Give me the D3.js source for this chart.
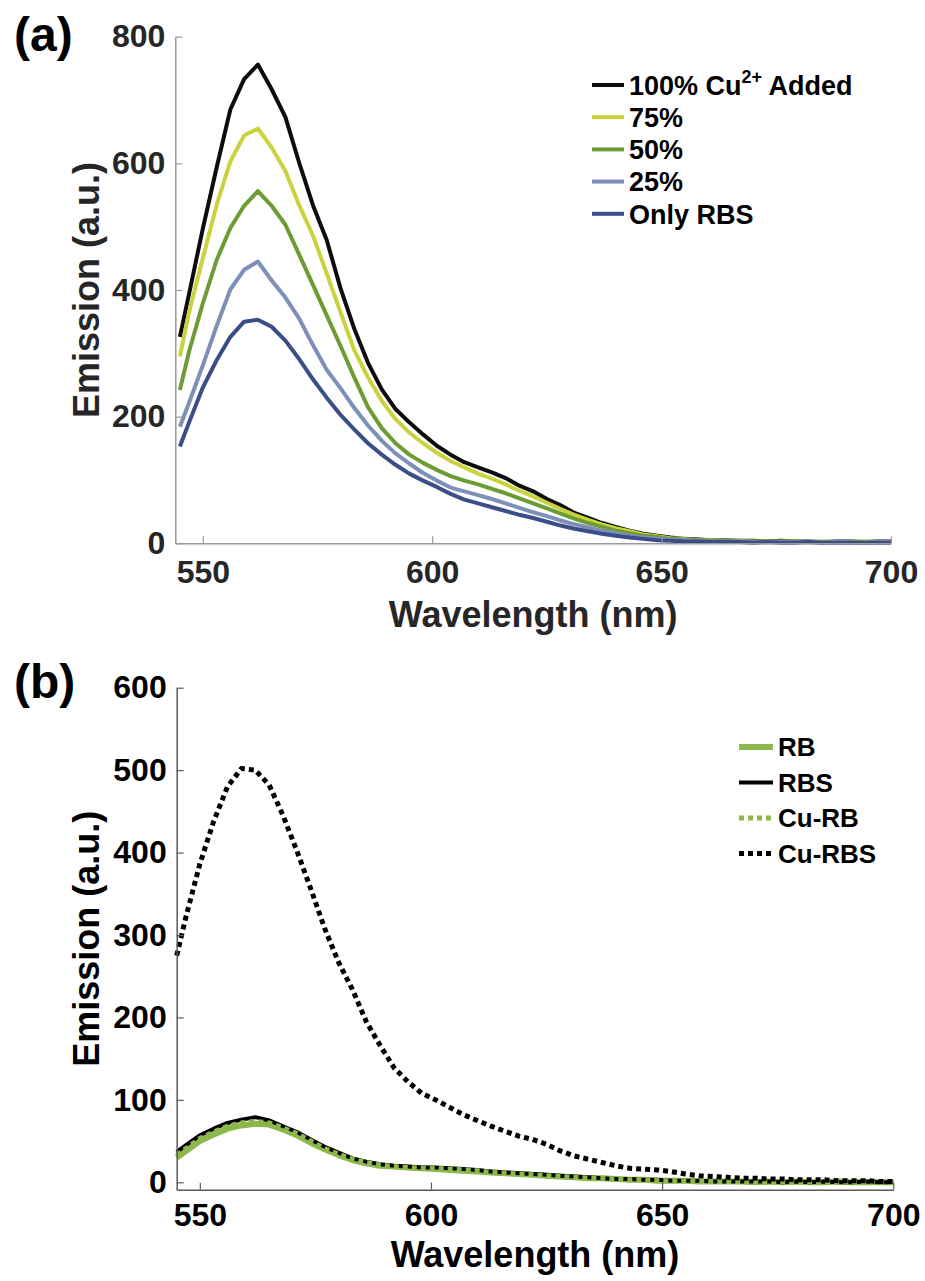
<!DOCTYPE html>
<html>
<head>
<meta charset="utf-8">
<script src="https://cdn.jsdelivr.net/npm/d3@7"></script>
<style>
  body { margin: 0; background: #fff; }
  svg { display: block; }
  text { font-family: "Liberation Sans", Arial, sans-serif; font-weight: bold; }
</style>
</head>
<body>
<svg id="chart" width="925" height="1281"></svg>
<script>
// shared wavelength grid (nm)
const wavelengths = [545, 547, 550, 553, 556, 559, 562, 565, 568, 571, 574, 577, 580, 583, 586, 589, 592, 595, 598, 601,
    604, 607, 610, 613, 616, 619, 622, 625, 628, 631, 634, 637, 640, 643, 646, 649, 652, 655, 658, 661,
    664, 667, 670, 673, 676, 679, 682, 685, 688, 691, 694, 697, 700];

// panel (a): Cu2+ titration
const cu100 = [326, 394, 497, 593, 685, 733, 756, 717, 673, 601, 534, 479, 403, 339, 285, 243, 212, 191, 172, 154,
    140, 128, 120, 112, 103, 91, 82, 70, 60, 48, 40, 32, 26, 20, 15, 12, 9, 7, 6, 5,
    5, 4, 4, 3, 4, 3, 3, 2, 3, 3, 2, 3, 3];
const cu75 = [295, 365, 450, 534, 603, 644, 655, 625, 588, 534, 486, 426, 365, 305, 262, 225, 196, 175, 158, 143,
    130, 120, 110, 102, 93, 83, 74, 64, 54, 45, 37, 30, 24, 19, 14, 11, 8, 7, 5, 5,
    4, 4, 3, 3, 3, 3, 2, 3, 2, 2, 3, 2, 2];
const cu50 = [242, 303, 379, 447, 498, 533, 556, 533, 503, 456, 408, 360, 312, 262, 215, 182, 158, 140, 127, 116,
    106, 99, 93, 86, 79, 71, 63, 55, 47, 39, 32, 26, 20, 16, 12, 10, 7, 6, 5, 4,
    4, 3, 3, 3, 2, 3, 2, 2, 2, 3, 2, 2, 2];
const cu25 = [184, 222, 281, 343, 401, 432, 445, 415, 388, 355, 313, 274, 245, 214, 186, 162, 142, 126, 111, 99,
    88, 82, 76, 70, 63, 56, 49, 43, 36, 30, 25, 20, 16, 12, 9, 7, 6, 5, 4, 3,
    3, 3, 2, 2, 2, 2, 2, 1, 2, 2, 1, 2, 2];
const onlyRBS = [153, 191, 246, 289, 326, 350, 353, 342, 320, 291, 259, 230, 203, 180, 158, 140, 124, 110, 99, 89,
    78, 69, 63, 57, 51, 45, 40, 34, 28, 23, 19, 15, 12, 9, 7, 5, 4, 3, 3, 2,
    2, 2, 1, 2, 1, 1, 2, 1, 1, 1, 1, 1, 1];

// panel (b): controls
const rb = [30, 38, 50, 58, 65, 69, 71, 70, 64, 57, 48, 40, 33, 27, 23, 20, 19, 18, 17, 16,
    15, 14, 13, 12, 11, 10, 9, 8, 7, 6, 5, 5, 4, 3, 3, 2, 2, 2, 1, 1,
    1, 1, 0, 1, 0, 1, 0, 0, 1, 0, 0, 0, 0];
const rbs = [37, 45, 57, 65, 72, 76, 79, 75, 68, 61, 52, 43, 36, 29, 25, 22, 20, 19, 18, 18,
    17, 16, 15, 13, 12, 11, 10, 9, 8, 7, 6, 5, 4, 4, 3, 3, 2, 2, 2, 1,
    1, 1, 1, 1, 0, 1, 0, 1, 0, 0, 1, 0, 0];
const cuRB = [33, 41, 53, 61, 68, 72, 74, 72, 66, 59, 50, 41, 34, 28, 24, 21, 19, 18, 17, 17,
    16, 15, 14, 12, 11, 10, 9, 8, 7, 6, 5, 5, 4, 3, 3, 2, 2, 2, 1, 1,
    1, 1, 1, 0, 1, 0, 1, 0, 0, 1, 0, 0, 0];
const cuRBS = [275, 322, 386, 438, 480, 502, 500, 482, 445, 402, 356, 308, 267, 234, 195, 166, 139, 122, 108, 100,
    91, 82, 75, 68, 62, 56, 52, 46, 38, 32, 28, 24, 20, 17, 16, 15, 13, 10, 8, 7,
    6, 5, 5, 4, 4, 3, 3, 3, 2, 2, 2, 1, 1];

const xTicks = [550, 600, 650, 700];
const yTicksA = [0, 200, 400, 600, 800];
const yTicksB = [0, 100, 200, 300, 400, 500, 600];

const labelsA = [["100% Cu", "2+", " Added"], ["75%"], ["50%"], ["25%"], ["Only RBS"]];
const labelsB = ["RB", "RBS", "Cu-RB", "Cu-RBS"];

const svg = d3.select("#chart");

function drawPanel(cfg) {
    const g = svg.append("g");
    const x = d3.scaleLinear().domain(cfg.xDomain).range([cfg.left, cfg.right]);
    const y = d3.scaleLinear().domain(cfg.yDomain).range([cfg.bottom, cfg.top]);

    const line = d3.line()
        .x((d, i) => x(wavelengths[i]))
        .y(d => y(d));

    cfg.series.forEach(s => {
        g.append("path")
            .datum(s.values)
            .attr("fill", "none")
            .attr("stroke", s.color)
            .attr("stroke-width", s.width)
            .attr("stroke-linejoin", "round")
            .attr("stroke-dasharray", s.dash || null)
            .attr("d", line);
    });

    const xAxis = g.append("g")
        .attr("transform", `translate(0,${ cfg.bottom })`)
        .call(d3.axisBottom(x).tickValues(xTicks).tickSize(-7).tickSizeOuter(0).tickPadding(cfg.xPad));
    const yAxis = g.append("g")
        .attr("transform", `translate(${ cfg.left },0)`)
        .call(d3.axisLeft(y).tickValues(cfg.yTicks).tickSize(-7).tickSizeOuter(0).tickPadding(10));

    [xAxis, yAxis].forEach(a => {
        a.select(".domain").attr("stroke", cfg.axisColor).attr("stroke-width", 1.5);
        a.selectAll(".tick line").attr("stroke", cfg.axisColor).attr("stroke-width", 1.2);
        a.selectAll(".tick text")
            .attr("fill", cfg.textColor)
            .style("font-size", "32px");
    });

    g.append("text")
        .attr("x", (cfg.left + cfg.right) / 2)
        .attr("y", cfg.bottom + cfg.xLabelDy)
        .attr("text-anchor", "middle")
        .attr("fill", cfg.textColor)
        .style("font-size", "36px")
        .text("Wavelength (nm)");

    g.append("text")
        .attr("transform", `translate(99,${ (cfg.top + cfg.bottom) / 2 }) rotate(-90)`)
        .attr("text-anchor", "middle")
        .attr("fill", cfg.textColor)
        .style("font-size", "36px")
        .text("Emission (a.u.)");

    g.append("text")
        .attr("x", 14)
        .attr("y", cfg.tagY)
        .attr("fill", "#000")
        .style("font-size", "48px")
        .text(cfg.tag);

    // legend
    const lg = g.append("g");
    cfg.series.forEach((s, i) => {
        const cy = cfg.legend.y0 + i * cfg.legend.step;
        lg.append("line")
            .attr("x1", cfg.legend.x)
            .attr("x2", cfg.legend.x + cfg.legend.len)
            .attr("y1", cy).attr("y2", cy)
            .attr("stroke", s.color)
            .attr("stroke-width", s.width)
            .attr("stroke-dasharray", s.dash || null);
        const t = lg.append("text")
            .attr("x", cfg.legend.x + cfg.legend.len + 5)
            .attr("y", cy + cfg.legend.size * 0.36)
            .attr("fill", "#000")
            .style("font-size", `${ cfg.legend.size }px`);
        const parts = Array.isArray(s.label) ? s.label : [s.label];
        parts.forEach((p, k) => {
            const sup = parts.length > 1 && k === 1;
            const ts = t.append("tspan").text(p);
            if (sup) ts.style("font-size", "18px").attr("dy", -12);
            else if (k === 2) ts.attr("dy", 12);
        });
    });
}

drawPanel({
    tag: "(a)", tagY: 51,
    left: 175.3, right: 891, top: 36.7, bottom: 543.3,
    xDomain: [544, 700], yDomain: [0, 800], yTicks: yTicksA,
    xPad: 17, xLabelDy: 84,
    axisColor: "#9a9a9a", textColor: "#262626",
    legend: { x: 592, len: 32, y0: 85, step: 32.2, size: 27 },
    series: [
        { label: labelsA[0], values: cu100, color: "#0d0d0d", width: 4 },
        { label: labelsA[1], values: cu75, color: "#c9d33d", width: 4 },
        { label: labelsA[2], values: cu50, color: "#6c9c33", width: 4 },
        { label: labelsA[3], values: cu25, color: "#7d90b9", width: 4 },
        { label: labelsA[4], values: onlyRBS, color: "#3b4e88", width: 4 }
    ]
});

drawPanel({
    tag: "(b)", tagY: 698,
    left: 176.7, right: 893.3, top: 687.7, bottom: 1189.7,
    xDomain: [545, 700], yDomain: [-9, 600], yTicks: yTicksB,
    xPad: 14, xLabelDy: 77,
    axisColor: "#5a5a5a", textColor: "#000",
    legend: { x: 739, len: 34, y0: 747, step: 35.5, size: 26 },
    series: [
        { label: labelsB[0], values: rb, color: "#8cb84b", width: 6 },
        { label: labelsB[1], values: rbs, color: "#000", width: 4 },
        { label: labelsB[2], values: cuRB, color: "#8cb84b", width: 5, dash: "5,4" },
        { label: labelsB[3], values: cuRBS, color: "#000", width: 5, dash: "5,4" }
    ]
});
</script>
</body>
</html>
